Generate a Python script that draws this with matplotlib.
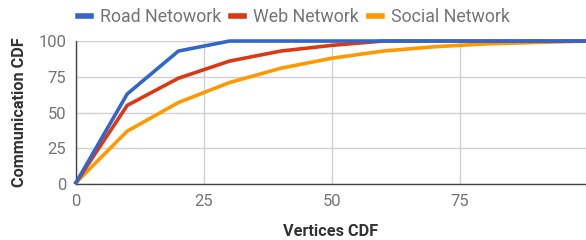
import matplotlib.pyplot as plt
from matplotlib.lines import Line2D

plt.rcParams['font.family'] = ['Roboto', 'DejaVu Sans']

# Vertices CDF (x) and communication CDF (y) per network
vertices = [0, 10, 20, 30, 40, 50, 60, 70, 80, 90, 100]
road = [1, 63, 93, 100, 100, 100, 100, 100, 100, 100, 100]
web = [1, 55, 74, 86, 93, 97, 100, 100, 100, 100, 100]
social = [1, 37, 57, 71, 81, 88, 93, 96, 98, 99, 100]

names = ['Road Netowork', 'Web Network', 'Social Network']
colors = ['#3366cc', '#dc3912', '#ff9900']
xticks = [0, 25, 50, 75]
yticks = [0, 25, 50, 75, 100]

fig = plt.figure(figsize=(5.86, 2.4), dpi=100)
ax = fig.add_axes([0.1297, 0.233, 0.8703, 0.596])

# draw social first so road sits on top
for series, c in reversed(list(zip([road, web, social], colors))):
    ax.plot(vertices, series, color=c, lw=2.6, solid_joinstyle='round', clip_on=False, zorder=3)

ax.set_xlim(0, 99.6)
ax.set_ylim(0, 100)
ax.set_xticks(xticks)
ax.set_yticks(yticks)
ax.grid(True, color='#d0d0d0', lw=1)
ax.set_axisbelow(True)
for s in ['top', 'right']:
    ax.spines[s].set_visible(False)
for s in ['left', 'bottom']:
    ax.spines[s].set_color('#444444')
    ax.spines[s].set_linewidth(1)
ax.tick_params(length=0, labelsize=12, colors='#757575', pad=7)

ax.set_xlabel('Vertices CDF', fontsize=11.7, fontweight='bold', color='#333333', labelpad=11)
ax.set_ylabel('Communication CDF', fontsize=11.7, fontweight='bold', color='#333333', labelpad=8)

handles = [Line2D([], [], color=c, lw=4) for c in colors]
fig.legend(handles, names, loc='center left', bbox_to_anchor=(0.105, 0.93), ncol=3,
           frameon=False, handlelength=0.75, handletextpad=0.5, columnspacing=0.55,
           prop={'size': 12.8}, labelcolor='#757575')

fig.savefig('out.png', dpi=100)
